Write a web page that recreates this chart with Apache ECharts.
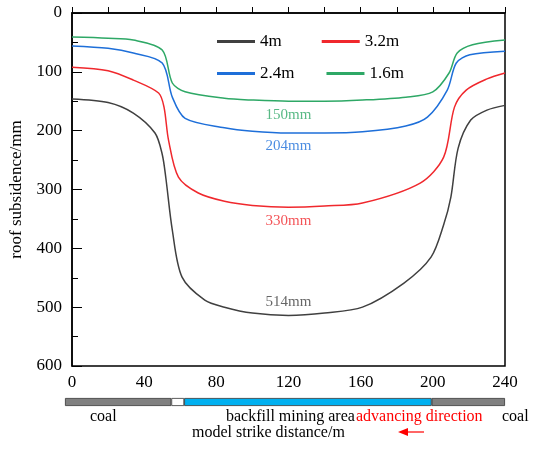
<!DOCTYPE html>
<html><head><meta charset="utf-8">
<script src="https://cdn.jsdelivr.net/npm/echarts@6/dist/echarts.min.js"></script>
<style>html,body{margin:0;background:#fff}#c{width:550px;height:449px}</style>
</head><body><div id="c"></div>
<script>
// [distance m, subsidence mm]
const s4m = [[0,146],[20,152],[34,170],[46,204],[50,240],[52,280],[55.6,369],[61,449],[73.6,488],[84.5,500],[100,510],[120,514],[140,510],[161,500],[184,459],[199,415],[206,360],[210,313],[214,230],[221,182],[230,165],[240,157]];
const s32m = [[0,92],[20,98],[34,114],[48,136],[51,160],[53.5,216],[59,279],[70,306],[84.5,320],[100,327],[120,330],[140,328],[161,323],[193,289],[206,245],[212,160],[218.5,131],[230,112],[240,102]];
const s24m = [[0,56],[20,60],[34,68],[50,85],[55.6,143],[62.7,179],[84.5,195],[100,201],[120,204],[140,204],[161,202],[185,192],[197,177],[208,131],[213,85],[220.5,71],[240,65]];
const s16m = [[0,41],[20,43],[34,46],[50,63],[55.6,119],[62.7,134],[84.5,145],[100,148],[120,150],[140,150],[161,148],[185,143],[200,134],[209,102],[213.5,68],[222,54],[240,46]];
const names = ['4m', '3.2m', '2.4m', '1.6m'];
const colors = ['#404040', '#f0282d', '#1e6fd9', '#2ea866'];
const peakLabels = ['514mm', '330mm', '204mm', '150mm'];
const peakValues = [514, 330, 204, 150];
// bottom strip: coal, gap, backfill, coal
const stripLens = [58, 7, 135, 40];
const stripColors = ['#808080', '#ffffff', '#00b0f0', '#808080'];

const font = 'Liberation Serif';
const chart = echarts.init(document.getElementById('c'));
const lineSeries = [s4m, s32m, s24m, s16m].map((d, i) => ({
  name: names[i], type: 'line', data: d, smooth: 0.3, symbol: 'none',
  xAxisIndex: 0, yAxisIndex: 0,
  lineStyle: { color: colors[i], width: 1.5 }, itemStyle: { color: colors[i] }
}));
const labelSeries = peakValues.map((v, i) => ({
  type: 'scatter', data: [[120, v]], symbolSize: 0, silent: true,
  label: { show: true, formatter: peakLabels[i], color: colors[i], fontFamily: font, fontSize: 15,
    position: i === 0 ? 'top' : 'bottom', distance: 6 }
}));
const stripSeries = stripLens.map((v, i) => ({
  type: 'bar', stack: 'strip', data: [v], xAxisIndex: 1, yAxisIndex: 1,
  barWidth: 8, itemStyle: { color: stripColors[i], borderColor: '#333', borderWidth: 0.8 }, silent: true
}));
chart.setOption({
  animation: false,
  textStyle: { fontFamily: font },
  legend: [
    { data: ['4m', '3.2m'], left: 212, top: 28, itemWidth: 38, itemGap: 40, icon: 'path://M0,0H1V0.08H0Z', textStyle: { fontSize: 17, fontFamily: font, color: '#000' } },
    { data: ['2.4m', '1.6m'], left: 212, top: 60, itemWidth: 38, itemGap: 32, icon: 'path://M0,0H1V0.08H0Z', textStyle: { fontSize: 17, fontFamily: font, color: '#000' } }
  ],
  grid: [
    { left: 65, right: 45, top: 13, height: 353, show: true, borderColor: '#000', borderWidth: 1.5 },
    { left: 65, right: 45, top: 398, height: 8 }
  ],
  xAxis: [
    { type: 'value', min: 0, max: 240, interval: 40, gridIndex: 0,
      axisLine: { lineStyle: { color: '#000', width: 1.5 } },
      axisTick: { inside: true, length: 6, lineStyle: { color: '#000' } },
      minorTick: { show: true, splitNumber: 2, length: 6, lineStyle: { color: '#000' } },
      splitLine: { show: false }, axisLabel: { color: '#000', fontSize: 17, margin: 8 } },
    { type: 'value', min: 0, max: 240, gridIndex: 1, show: false }
  ],
  yAxis: [
    { type: 'value', min: 0, max: 600, interval: 100, inverse: true, gridIndex: 0,
      name: 'roof subsidence/mm', nameLocation: 'middle', nameGap: 47, nameTextStyle: { fontSize: 17, color: '#000', fontFamily: font },
      axisLine: { lineStyle: { color: '#000', width: 1.5 } },
      axisTick: { inside: true, length: 10, lineStyle: { color: '#000' } },
      minorTick: { show: true, splitNumber: 2, length: 6, lineStyle: { color: '#000' } },
      splitLine: { show: false }, axisLabel: { color: '#000', fontSize: 17, margin: 10 } },
    { type: 'category', data: ['strip'], gridIndex: 1, show: false }
  ],
  graphic: [
    { type: 'text', left: 90, top: 409, style: { text: 'coal', font: '16px ' + font, fill: '#000' } },
    { type: 'text', left: 226, top: 409, style: { text: 'backfill mining area', font: '16px ' + font, fill: '#000' } },
    { type: 'text', left: 356, top: 409, style: { text: 'advancing direction', font: '16px ' + font, fill: '#f00' } },
    { type: 'text', left: 502, top: 409, style: { text: 'coal', font: '16px ' + font, fill: '#000' } },
    { type: 'text', left: 192, top: 425, style: { text: 'model strike distance/m', font: '16px ' + font, fill: '#000' } },
    { type: 'line', shape: { x1: 402, y1: 432, x2: 424, y2: 432 }, style: { stroke: '#f00', lineWidth: 1.2 } },
    { type: 'polygon', shape: { points: [[398, 432], [408, 428], [408, 436]] }, style: { fill: '#f00' } }
  ],
  series: lineSeries.concat(labelSeries, stripSeries)
});
</script></body></html>
